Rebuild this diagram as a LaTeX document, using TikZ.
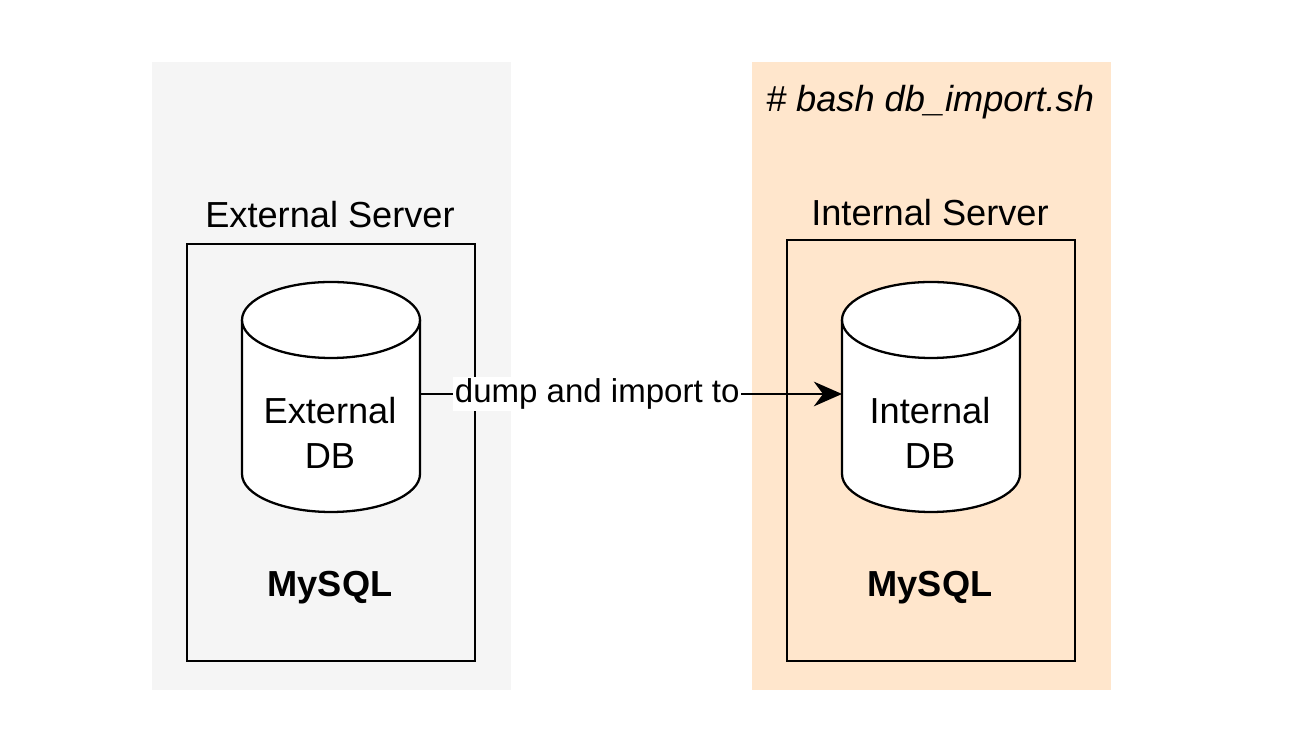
\documentclass[tikz,border=0pt]{standalone}
\usepackage{fontspec}
\setmainfont{Liberation Sans}
\usetikzlibrary{arrows.meta}
\definecolor{extgray}{HTML}{F5F5F5}
\definecolor{intorange}{HTML}{FFE6CC}
\newcommand{\DBcyl}[2]{% center x, name
  \draw[fill=white, line width=0.65pt] (#1-8.9,32.0) -- (#1-8.9,47.4)
    arc (180:0:8.9 and 3.8) -- (#1+8.9,32.0);
  \draw[fill=white, line width=0.65pt] (#1,32.0) ellipse (8.9 and 3.8);
  \coordinate (#2) at (#1,39.4);
}
\begin{document}
\begin{tikzpicture}[x=0.1cm,y=0.1cm,
  box/.style={draw, line width=0.65pt},
  lbl/.style={font=\fontsize{10.3}{13}\selectfont}]
\useasboundingbox (0,0) rectangle (129.6,75.6);
\begin{scope}[shift={(0,75.6)}, y=-0.1cm]
% backgrounds
\fill[extgray] (15.2,6.2) rectangle (51.1,69.0);
\fill[intorange] (75.2,6.2) rectangle (111.1,69.0);
\node[font=\fontsize{10.3}{13}\selectfont\itshape] (cmd) at (93.0,10.2) {\# bash db\_import.sh};
% servers
\draw[box] (18.7,24.4) rectangle (47.5,66.1);
\draw[box] (78.7,24.0) rectangle (107.5,66.1);
\node[lbl] (ext) at (33.0,21.5) {External Server};
\node[lbl] (int) at (93.0,21.3) {Internal Server};
% databases
\DBcyl{33.1}{extdb}
\DBcyl{93.1}{intdb}
\coordinate (a1) at (42.0,39.4);
\coordinate (a2) at (84.2,39.4);
\node[lbl, align=center] (extname) at (33.0,43.3) {External\\DB};
\node[lbl, align=center] (intname) at (93.0,43.3) {Internal\\DB};
\node[font=\fontsize{10.3}{13}\selectfont\bfseries] (extsql) at (33.0,58.8) {MySQL};
\node[font=\fontsize{10.3}{13}\selectfont\bfseries] (intsql) at (93.0,58.8) {MySQL};
\draw[line width=0.65pt, -{Stealth[length=8pt,width=7pt]}] (a1) -- (a2)
  node[pos=0.42, fill=white, inner sep=0.5pt, font=\fontsize{9.4}{12}\selectfont] (lab) {dump and import to};
\end{scope}
\end{tikzpicture}
\end{document}
